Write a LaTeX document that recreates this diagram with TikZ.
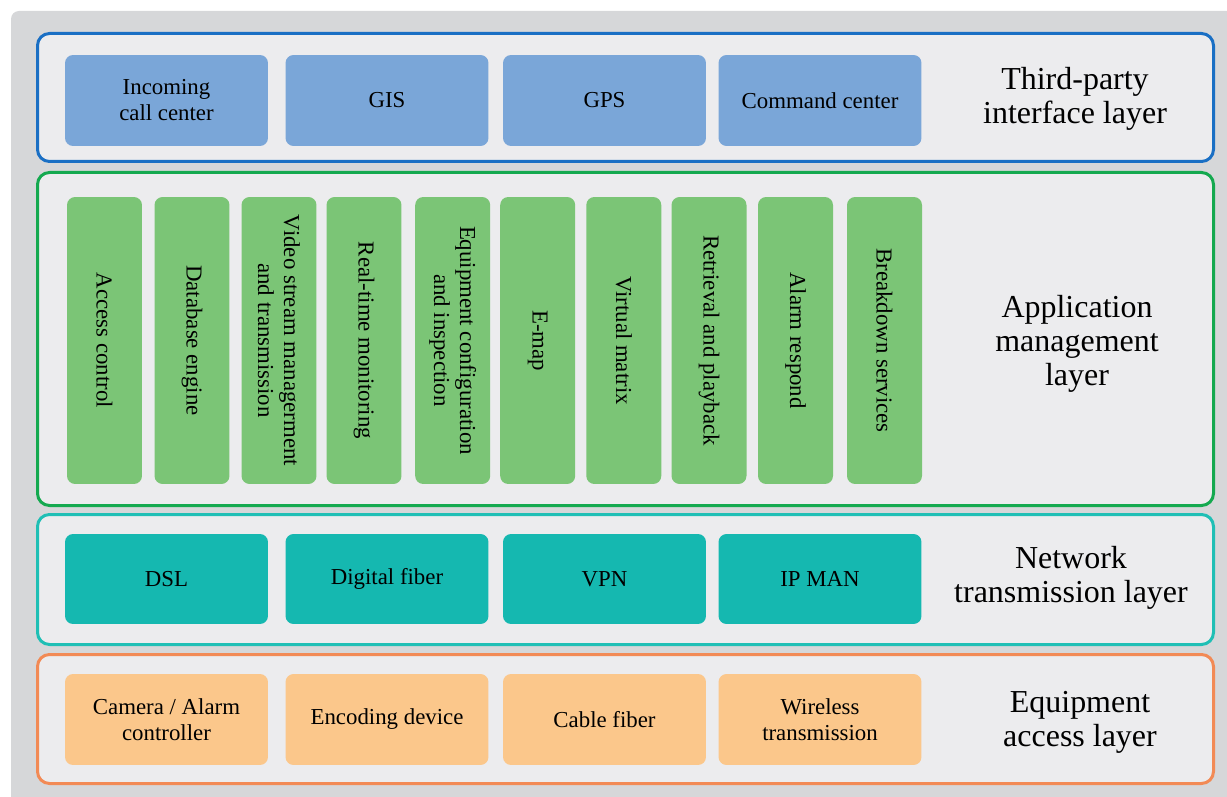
\documentclass[tikz,border=0pt]{standalone}
\usepackage{fontspec}
\setmainfont{Liberation Serif}
\usepackage{tikz}
\usetikzlibrary{positioning}

\definecolor{bggray}{HTML}{D6D7D9}
\definecolor{panelgray}{HTML}{ECECEE}
\definecolor{thirdline}{HTML}{1A6FC4}
\definecolor{thirdfill}{HTML}{7AA6D8}
\definecolor{appline}{HTML}{14A94F}
\definecolor{appfill}{HTML}{7BC576}
\definecolor{netline}{HTML}{1FBFB5}
\definecolor{netfill}{HTML}{15B8B0}
\definecolor{equipline}{HTML}{F28A55}
\definecolor{equipfill}{HTML}{FBC78B}

\begin{document}
\begin{tikzpicture}[
	x=0.02cm, y=-0.02cm,
	every node/.style={font=\fontsize{13}{14.8}\selectfont},
	layer/.style={draw, line width=0.06cm, rounded corners=0.24cm, fill=panelgray},
	unit/.style={rounded corners=0.16cm, minimum width=4.06cm, minimum height=1.82cm, align=center},
	vunit/.style={rounded corners=0.16cm, fill=appfill, rotate=-90, minimum width=5.74cm, minimum height=1.5cm, align=center},
	title/.style={align=center, font=\fontsize{18.2}{19.4}\selectfont}
	]
	
	\useasboundingbox (0,0) rectangle (1227,797);
	\fill[bggray] (11,797) [rounded corners=0.16cm] -- (11,11) [sharp corners] -- (1227,11) -- (1227,797) -- cycle;
	
	% Layer panels
	\draw[layer, draw=thirdline] (37.5,33.5) rectangle (1213.5,161.5);
	\draw[layer, draw=appline] (37.5,172.5) rectangle (1213.5,505.5);
	\draw[layer, draw=netline] (37.5,514.5) rectangle (1213.5,644.5);
	\draw[layer, draw=equipline] (37.5,654.5) rectangle (1213.5,783.5);
	
	% Third-party interface layer
	\foreach \cx/\nm/\txt in {166.5/call/{Incoming\\call center}, 387/gis/GIS, 604.5/gps/GPS, 820/cmd/{Command center}}
		\node[unit, fill=thirdfill] (\nm) at (\cx,100.5) {\txt};
	\node[title] (thirdlabel) at (1075,99) {Third-party\\interface layer};
	
	% Application management layer (vertical boxes)
	\foreach \cx/\nm/\txt in {104.5/access/{Access control}, 192/dbase/{Database engine},
		279/video/{Video stream managerment\\and transmission}, 364/monitor/{Real-time monitoring},
		452.7/config/{Equipment configuration\\and inspection}, 537.7/emap/E-map,
		623.8/matrix/{Virtual matrix}, 709/playback/{Retrieval and playback},
		795.5/alarm/{Alarm respond}, 884.5/breakdown/{Breakdown services}}
		\node[vunit] (\nm) at (\cx,340.5) {\txt};
	\node[title] (applabel) at (1077,344) {Application\\management\\layer};
	
	% Network transmission layer
	\foreach \cx/\nm/\txt in {166.5/dsl/DSL, 387/fiber/{Digital fiber}, 604.5/vpn/VPN, 820/ipman/{IP MAN}}
		\node[unit, fill=netfill, minimum height=1.8cm] (\nm) at (\cx,579) {\txt};
	\node[title] (netlabel) at (1071,578) {Network\\transmission layer};
	
	% Equipment access layer
	\foreach \cx/\nm/\txt in {166.5/camera/{Camera / Alarm\\controller}, 387/encoder/{Encoding device}, 604.5/cable/{Cable fiber}, 820/wireless/{Wireless\\transmission}}
		\node[unit, fill=equipfill] (\nm) at (\cx,719.5) {\txt};
	\node[title] (equiplabel) at (1080,722) {Equipment\\access layer};
	
\end{tikzpicture}
\end{document}
